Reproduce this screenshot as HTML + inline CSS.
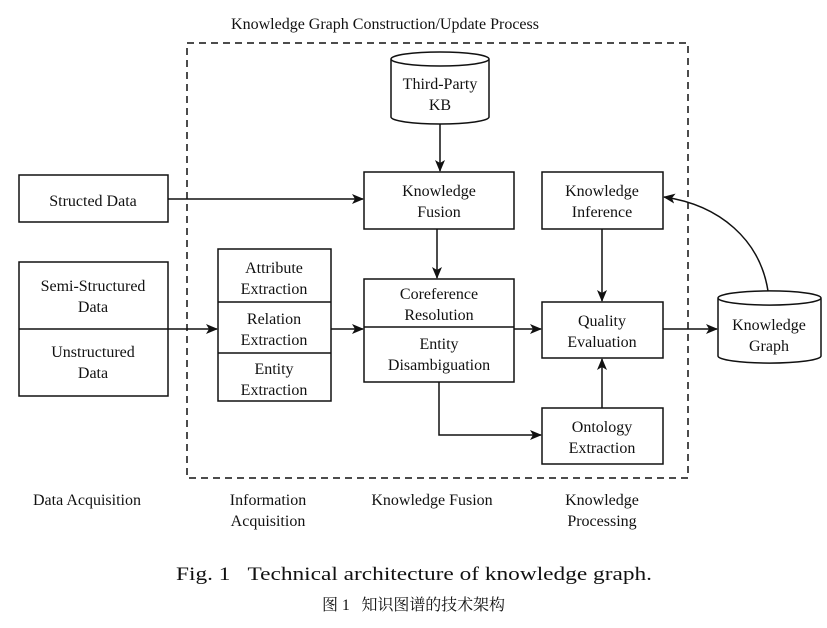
<!DOCTYPE html>
<html><head><meta charset="utf-8"><style>
body{margin:0;background:#fff;}
svg text{font-family:"Liberation Serif","Noto Serif CJK SC",serif;font-size:16px;fill:#111;}
</style></head><body>
<svg width="827" height="623" viewBox="0 0 827 623" xmlns="http://www.w3.org/2000/svg">
<defs><marker id="a" markerWidth="12" markerHeight="10" refX="11" refY="5" orient="auto" markerUnits="userSpaceOnUse"><path d="M0,0 L12,5 L0,10 L3,5 z" fill="#111"/></marker></defs>
<g fill="none" stroke="#111" stroke-width="1.5">
<rect x="187" y="43" width="501" height="435" stroke-dasharray="7,5"/>
<rect x="19" y="175" width="149" height="47"/>
<rect x="19" y="262" width="149" height="134"/><line x1="19" y1="329" x2="168" y2="329"/>
<rect x="218" y="249" width="113" height="152"/><line x1="218" y1="302" x2="331" y2="302"/><line x1="218" y1="353" x2="331" y2="353"/>
<rect x="364" y="172" width="150" height="57"/>
<rect x="364" y="279" width="150" height="103"/><line x1="364" y1="327" x2="514" y2="327"/>
<rect x="542" y="172" width="121" height="57"/>
<rect x="542" y="302" width="121" height="56"/>
<rect x="542" y="408" width="121" height="56"/>
<path d="M391,59 L391,117 A49,7 0 0 0 489,117 L489,59 A49,7 0 0 0 391,59 A49,7 0 0 0 489,59"/>
<path d="M718,298 L718,356 A51,7 0 0 0 821,356 L821,298 A51,7 0 0 0 718,298 A51,7 0 0 0 821,298"/>
</g>
<g fill="none" stroke="#111" stroke-width="1.5" marker-end="url(#a)">
<line x1="168" y1="199" x2="363" y2="199"/>
<line x1="440" y1="124" x2="440" y2="171"/>
<line x1="437" y1="229" x2="437" y2="278"/>
<line x1="168" y1="329" x2="217" y2="329"/>
<line x1="331" y1="329" x2="363" y2="329"/>
<line x1="514" y1="329" x2="541" y2="329"/>
<line x1="602" y1="229" x2="602" y2="301"/>
<line x1="602" y1="408" x2="602" y2="359"/>
<polyline points="439,382 439,435 541,435"/>
<line x1="663" y1="329" x2="717" y2="329"/>
<path d="M768,291 C760,240 720,205 664,197"/>
</g>
<g text-anchor="middle">
<text x="385" y="29">Knowledge Graph Construction/Update Process</text>
<text x="440" y="89">Third-Party</text><text x="440" y="110">KB</text>
<text x="93" y="206">Structed Data</text>
<text x="93" y="291">Semi-Structured</text><text x="93" y="312">Data</text>
<text x="93" y="357">Unstructured</text><text x="93" y="378">Data</text>
<text x="274" y="273">Attribute</text><text x="274" y="294">Extraction</text>
<text x="274" y="324">Relation</text><text x="274" y="345">Extraction</text>
<text x="274" y="374">Entity</text><text x="274" y="395">Extraction</text>
<text x="439" y="196">Knowledge</text><text x="439" y="217">Fusion</text>
<text x="439" y="299">Coreference</text><text x="439" y="320">Resolution</text>
<text x="439" y="349">Entity</text><text x="439" y="370">Disambiguation</text>
<text x="602" y="196">Knowledge</text><text x="602" y="217">Inference</text>
<text x="602" y="326">Quality</text><text x="602" y="347">Evaluation</text>
<text x="602" y="432">Ontology</text><text x="602" y="453">Extraction</text>
<text x="769" y="330">Knowledge</text><text x="769" y="351">Graph</text>
<text x="87" y="505">Data Acquisition</text>
<text x="268" y="505">Information</text><text x="268" y="526">Acquisition</text>
<text x="432" y="505">Knowledge Fusion</text>
<text x="602" y="505">Knowledge</text><text x="602" y="526">Processing</text>
</g>
<text x="176" y="580" textLength="476" lengthAdjust="spacingAndGlyphs" style="font-size:19px">Fig. 1 &#160; Technical architecture of knowledge graph.</text>
<text x="322" y="610" textLength="183" lengthAdjust="spacing">图 1 &#160; 知识图谱的技术架构</text>
</svg>
</body></html>
